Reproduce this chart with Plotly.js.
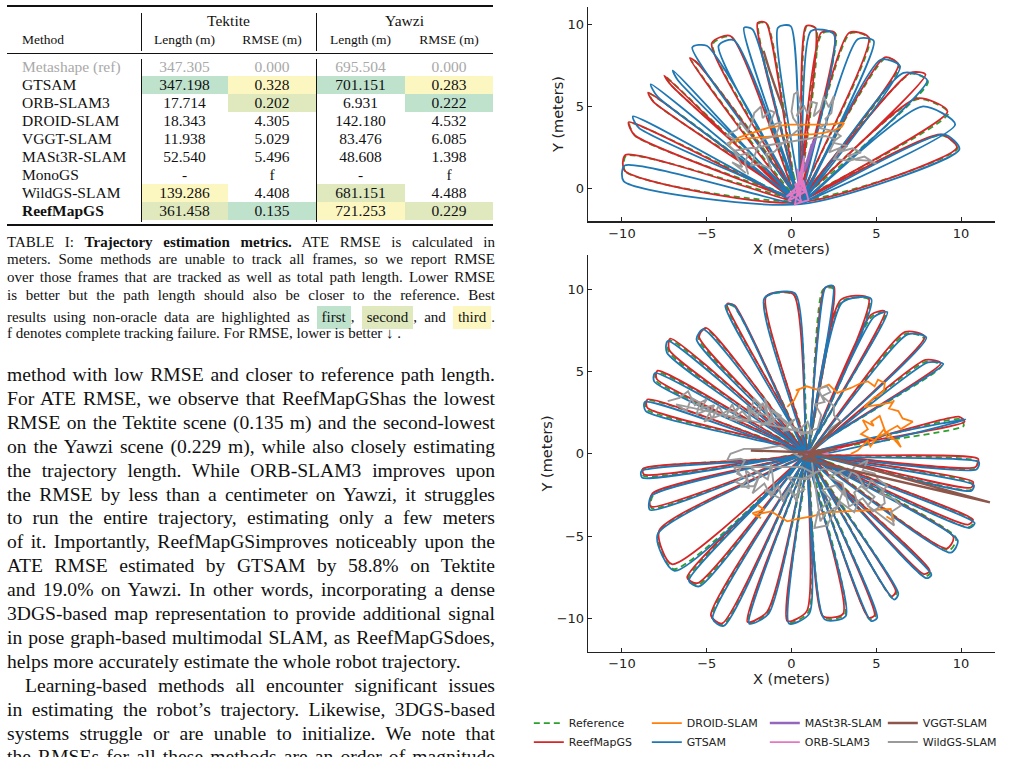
<!DOCTYPE html>
<html><head><meta charset="utf-8">
<script src="https://cdn.plot.ly/plotly-3.0.1.min.js"></script>
<style>
html,body{margin:0;padding:0;background:#fff;}
body{width:1010px;height:757px;overflow:hidden;position:relative;font-family:"Liberation Serif","DejaVu Serif",serif;color:#111;}
.rule{position:absolute;background:#111;}
.cell{position:absolute;height:18px;line-height:18px;font-size:15.5px;white-space:nowrap;}
.cap{position:absolute;left:7px;width:488px;height:18px;line-height:18px;font-size:15px;white-space:nowrap;text-align:justify;text-align-last:justify;}
.txt{position:absolute;left:7px;width:488px;height:24px;line-height:24px;font-size:19.6px;white-space:nowrap;text-align:justify;text-align-last:justify;}
.hl{display:inline-block;padding:0 5px;line-height:23px;}
#plot{position:absolute;left:520px;top:0;width:490px;height:757px;}
</style></head>
<body>
<div id="table"></div>
<div id="caption"></div>
<div id="text"></div>
<div id="plot"></div>
<script>
// ---------------- TABLE DATA ----------------
const methods = ["Metashape (ref)","GTSAM","ORB-SLAM3","DROID-SLAM","VGGT-SLAM","MASt3R-SLAM","MonoGS","WildGS-SLAM","ReefMapGS"];
const tekLength = ["347.305","347.198","17.714","18.343","11.938","52.540","-","139.286","361.458"];
const tekRmse = ["0.000","0.328","0.202","4.305","5.029","5.496","f","4.408","0.135"];
const yawLength = ["695.504","701.151","6.931","142.180","83.476","48.608","-","681.151","721.253"];
const yawRmse = ["0.000","0.283","0.222","4.532","6.085","1.398","f","4.488","0.229"];
const tekLengthRank = [0,1,0,0,0,0,0,3,2];
const tekRmseRank = [0,3,2,0,0,0,0,0,1];
const yawLengthRank = [0,1,0,0,0,0,0,2,3];
const yawRmseRank = [0,3,1,0,0,0,0,0,2];
const sceneNames = ["Tektite","Yawzi"];
const colHeaders = ["Method","Length (m)","RMSE (m)","Length (m)","RMSE (m)"];

const captionLines = [
 'TABLE I: <b>Trajectory estimation metrics.</b> ATE RMSE is calculated in',
 'meters. Some methods are unable to track all frames, so we report RMSE',
 'over those frames that are tracked as well as total path length. Lower RMSE',
 'is better but the path length should also be closer to the reference. Best',
 'results using non-oracle data are highlighted as <span class="hl" style="background:#bfe2cd">first</span>, <span class="hl" style="background:#dfe9bd">second</span>, and <span class="hl" style="background:#fcf7c1">third</span>.',
 'f denotes complete tracking failure. For RMSE, lower is better ↓ .'
];
const bodyLines = [
 'method with low RMSE and closer to reference path length.',
 'For ATE RMSE, we observe that ReefMapGShas the lowest',
 'RMSE on the Tektite scene (0.135 m) and the second-lowest',
 'on the Yawzi scene (0.229 m), while also closely estimating',
 'the trajectory length. While ORB-SLAM3 improves upon',
 'the RMSE by less than a centimeter on Yawzi, it struggles',
 'to run the entire trajectory, estimating only a few meters',
 'of it. Importantly, ReefMapGSimproves noticeably upon the',
 'ATE RMSE estimated by GTSAM by 58.8% on Tektite',
 'and 19.0% on Yawzi. In other words, incorporating a dense',
 '3DGS-based map representation to provide additional signal',
 'in pose graph-based multimodal SLAM, as ReefMapGSdoes,',
 'helps more accurately estimate the whole robot trajectory.',
 'Learning-based methods all encounter significant issues',
 'in estimating the robot’s trajectory. Likewise, 3DGS-based',
 'systems struggle or are unable to initialize. We note that',
 'the RMSEs for all these methods are an order of magnitude'
];

// ---------------- TRAJECTORY DATA ----------------
// petals: [tipA_x, tipA_y, tipB_x, tipB_y]; hubs: [x, y]
const tekRefHub = [0.45,-0.75];
const tekReefHub = [0.40,-0.85];
const tekGtsamHub = [0.55,-0.95];
const tekRefPetals = [
 [-9.80,1.05,-9.75,2.00],[-9.20,3.20,-9.55,4.00],[-8.10,5.25,-8.40,5.80],[-7.05,6.25,-7.45,6.85],
 [-5.55,7.65,-5.95,7.90],[-4.65,8.80,-3.55,9.25],[-1.95,10.05,-1.45,10.05],[0.90,9.90,1.45,9.75],
 [1.80,9.45,2.60,9.45],[3.45,9.45,4.60,9.15],[5.55,7.95,6.35,7.50],[7.05,7.00,8.05,6.50],
 [7.45,5.45,9.25,4.60],[8.85,3.25,9.80,2.45]
];
const tekReefPetals = [
 [-9.85,1.10,-9.80,2.05],[-9.25,3.25,-9.60,4.05],[-8.15,5.30,-8.45,5.85],[-7.10,6.30,-7.50,6.90],
 [-5.60,7.70,-6.00,7.95],[-4.70,8.85,-3.60,9.30],[-2.00,10.10,-1.50,10.10],[0.85,9.90,1.40,9.80],
 [1.75,9.50,2.55,9.50],[3.40,9.50,4.55,9.20],[5.50,8.00,6.30,7.55],[7.00,7.05,7.90,6.95],
 [7.40,5.50,9.20,4.70],[8.80,3.30,9.75,2.50]
];
const tekGtsamPetals = [
 [-9.90,0.45,-9.85,1.40],[-9.00,3.70,-9.35,4.40],[-7.90,5.60,-8.30,6.35],[-6.70,6.60,-7.00,7.20],
 [-5.85,8.60,-5.00,8.70],[-4.30,8.70,-3.40,9.05],[-2.80,9.80,-2.30,9.70],[-0.80,9.80,-0.05,9.90],
 [1.15,9.60,2.50,9.40],[3.90,9.10,4.85,9.00],[5.25,7.85,6.40,7.45],[6.60,7.05,8.00,6.60],
 [7.70,5.00,9.65,3.90],[9.00,3.30,9.90,2.40]
];
const tekDroid = [[-3.7,2.6],[-3.45,2.95],[-3.0,3.15],[-2.6,3.3],[-2.0,3.5],[-1.4,3.7],[-0.8,3.8],[-0.25,3.9],[0.4,3.9],[0.95,3.9],[1.6,3.9],[2.1,3.9],[2.6,3.95],[3.1,4.0],[2.95,3.75],[2.5,3.55],[1.9,3.4],[1.2,3.3],[0.55,3.3],[-0.2,3.25],[-1.0,3.2],[-1.6,3.15],[-2.2,3.1],[-2.8,3.05],[-3.3,2.85]];
const tekWildGS = [[-2.55,0.85],[-2.75,1.6],[-2.5,2.2],[-3.1,2.0],[-3.8,2.75],[-3.3,3.0],[-3.85,3.25],[-3.2,3.6],[-3.0,4.05],[-2.6,3.5],[-2.3,4.1],[-2.2,4.6],[-1.8,5.0],[-1.7,4.3],[-1.25,4.75],[-1.0,4.65],[-1.35,3.8],[-0.6,4.05],[-0.95,3.2],[-1.7,3.0],[-2.0,2.5],[-2.4,1.4],[-1.9,1.5],[-1.2,1.2],[-1.5,2.1],[-1.0,2.25],[-0.6,2.7],[-0.25,3.0],[0.3,3.5],[0.55,3.65],[0.1,4.3],[0.0,4.7],[0.15,5.75],[0.35,5.9],[0.55,5.1],[0.3,4.4],[0.75,5.0],[0.95,4.55],[1.15,5.3],[1.5,5.2],[1.3,4.4],[1.7,4.8],[1.9,5.6],[2.2,4.95],[2.5,5.65],[2.35,4.6],[2.0,4.25],[2.1,3.95],[1.6,3.7],[2.5,3.5],[2.9,3.2],[2.4,2.8],[3.3,2.6],[2.7,2.2],[3.6,2.45],[4.1,2.2],[3.3,2.0],[3.8,1.75],[4.5,1.7],[5.0,1.5],[4.3,1.95],[3.4,1.7],[2.5,1.8],[2.9,2.5],[2.2,2.2],[2.6,3.0],[2.0,3.2],[-3.4,2.3],[-2.9,1.3],[-3.5,1.6],[-2.7,0.95]];
const tekMast3r = [[0.7,1.0],[1.3,2.9],[0.85,1.25],[1.4,3.05],[0.8,1.15],[1.2,2.7],[0.75,1.05]];
const tekOrb = [[0.0,-0.4],[0.6,-0.85],[0.2,0.3],[0.9,-0.3],[0.35,1.2],[0.5,-0.6],[0.75,2.0],[0.3,-0.2],[-0.3,-0.5],[0.7,0.45],[1.0,-0.7],[0.2,-0.95],[0.6,0.95],[0.1,-0.3],[-0.2,-0.75],[0.8,-0.2],[0.45,0.6]];
const tekVggt = [[-1.65,8.4],[-1.3,7.2],[-0.9,6.0],[-0.55,5.0],[-0.35,4.4]];

const yawRefHub = [1.00,0.05];
const yawReefHub = [0.95,0.00];
const yawGtsamHub = [0.90,-0.05];
const yawRefPetals = [
 [-1.55,9.50,0.15,9.65],[1.85,9.95,2.45,10.05],[2.95,9.25,4.60,9.35],[4.75,8.35,5.55,8.55],
 [6.75,7.30,7.80,7.00],[7.95,5.60,8.85,5.35],[9.95,2.10,10.15,1.70],[10.95,-0.45,10.80,-0.90],
 [10.65,-1.80,10.55,-2.20],[10.75,-4.10,10.45,-4.45],[9.70,-5.10,9.30,-5.85],[8.20,-7.20,7.85,-7.45],
 [6.20,-8.40,5.95,-8.75],[4.95,-9.85,4.60,-10.05],[3.15,-9.75,1.90,-9.95],[1.00,-9.60,-0.20,-10.25],
 [-1.40,-9.65,-2.55,-10.25],[-4.05,-10.40,-4.70,-9.90],[-5.50,-7.95,-6.10,-7.60],[-6.95,-7.00,-7.85,-4.80],
 [-8.25,-3.30,-8.15,-2.50],[-8.70,-1.35,-8.80,-0.95],[-8.55,2.70,-8.55,3.25],[-8.00,4.45,-7.95,4.95],
 [-7.25,6.20,-7.20,6.90],[-5.50,7.00,-5.10,7.60],[-3.85,9.05,-3.40,8.95]
];
const yawReefPetals = [
 [-1.50,9.55,0.10,9.70],[1.95,10.05,2.50,10.15],[2.90,9.35,4.55,9.45],[4.70,8.45,5.50,8.65],
 [6.70,7.40,7.85,7.10],[7.90,5.70,8.80,5.50],[9.90,2.25,10.20,1.95],[11.00,-0.30,10.85,-0.80],
 [10.70,-1.70,10.60,-2.05],[10.70,-4.00,10.40,-4.30],[9.55,-5.05,9.15,-5.75],[8.15,-7.10,7.80,-7.30],
 [6.15,-8.35,5.90,-8.65],[4.90,-9.80,4.55,-9.95],[3.05,-9.70,1.85,-9.85],[0.90,-9.55,-0.25,-10.15],
 [-1.45,-9.60,-2.60,-10.20],[-4.10,-10.30,-4.75,-9.80],[-5.55,-7.85,-6.15,-7.50],[-7.05,-6.70,-7.80,-4.65],
 [-8.30,-3.20,-8.20,-2.40],[-8.70,-1.25,-8.75,-0.90],[-8.50,2.80,-8.50,3.30],[-7.95,4.55,-7.90,5.05],
 [-7.20,6.30,-7.15,7.00],[-5.45,7.10,-5.05,7.65],[-3.80,9.10,-3.35,9.00]
];
const yawGtsamPetals = [
 [-1.60,9.45,0.20,9.75],[2.00,10.10,2.45,10.20],[3.00,9.20,4.70,9.40],[4.85,8.30,5.65,8.60],
 [6.85,7.25,7.95,7.05],[8.05,5.55,8.95,5.45],[10.00,2.00,10.25,2.10],[11.05,-0.50,10.90,-0.95],
 [10.75,-1.90,10.60,-2.25],[10.80,-4.20,10.50,-4.50],[9.80,-5.25,9.40,-6.00],[8.25,-7.35,7.95,-7.55],
 [6.30,-8.50,6.05,-8.85],[5.05,-9.95,4.70,-10.15],[3.20,-9.85,1.95,-10.05],[1.05,-9.70,-0.15,-10.30],
 [-1.35,-9.70,-2.50,-10.30],[-4.00,-10.45,-4.65,-10.00],[-5.45,-8.05,-6.05,-7.70],[-6.90,-7.10,-7.90,-4.90],
 [-8.35,-3.40,-8.25,-2.55],[-8.80,-1.45,-8.85,-1.05],[-8.60,2.60,-8.65,3.15],[-8.10,4.40,-8.05,4.90],
 [-7.35,6.15,-7.30,6.85],[-5.60,6.95,-5.20,7.55],[-3.90,9.00,-3.45,9.05]
];
const yawDroid = [[-0.25,2.85],[0.15,3.25],[0.45,3.9],[0.25,3.85],[0.9,4.1],[1.5,3.9],[2.2,4.2],[2.7,3.7],[3.5,4.0],[4.1,4.3],[4.5,4.4],[4.9,4.1],[5.1,4.5],[5.5,4.3],[5.45,3.85],[5.1,3.5],[4.9,3.45],[4.3,2.85],[5.3,3.0],[6.0,3.15],[6.05,3.25],[5.75,2.75],[6.3,2.6],[6.55,2.15],[7.15,1.95],[6.45,1.5],[6.25,1.7],[5.55,1.3],[5.2,2.3],[4.7,1.95],[4.85,1.7],[4.2,2.05],[4.5,1.5],[4.1,1.2],[4.9,0.8],[5.45,1.5],[5.65,1.0],[6.25,0.8],[6.45,0.4],[6.25,0.65],[5.65,1.3],[5.05,1.0],[4.65,0.45],[4.5,0.8],[3.9,0.2],[3.5,0.0],
 null,
 [-2.0,-3.1],[-1.6,-3.4],[-2.3,-3.6],[-1.8,-3.9],[-2.2,-3.7],[-1.2,-3.5],[-0.25,-4.1],[0.35,-3.95],[1.2,-3.8],[2.1,-3.55],[3.0,-3.5],[3.9,-3.45],[4.8,-3.4],[5.85,-3.35],[6.05,-4.1],[5.6,-3.8]];
const yawWildGS = [[-7.3,3.2],[-6.6,3.4],[-6.1,3.8],[-5.7,2.95],[-5.0,3.3],[-5.35,2.75],[-4.55,2.95],[-5.15,1.95],[-4.2,2.35],[-3.8,2.6],[-3.4,2.55],[-3.0,2.95],[-3.6,2.1],[-2.6,1.95],[-2.2,3.35],[-1.8,2.95],[-2.4,2.5],[-1.4,2.35],[-1.6,3.4],[-1.0,1.95],[-1.9,1.7],[-0.6,2.3],[-1.2,2.7],[-0.3,1.8],[0.2,2.1],[-0.5,1.4],[0.55,1.55],[0.95,1.95],[1.2,1.2],
 [-6.8,3.0],[-6.2,2.6],[-5.9,3.4],[-5.4,3.1],[-5.6,2.4],[-4.9,2.7],[-4.7,2.1],[-4.3,2.9],[-3.9,2.2],[-3.5,3.0],[-3.2,2.3],[-2.9,2.6],[-2.4,2.0],[-2.6,2.9],[-2.0,2.2],[-1.7,3.1],[-1.3,2.0],[-1.1,2.6],[-0.4,2.0],[0.6,1.2],
 [1.55,1.55],[1.75,2.35],[1.4,3.0],[1.95,3.15],[1.55,3.95],[2.1,4.1],[2.3,3.75],[1.8,3.5],[2.5,2.9],[2.5,2.35],[2.9,1.95],[2.3,1.55],[2.0,0.9],[1.5,0.5],
 [0.5,-0.2],[-0.6,0.5],[-1.8,0.3],[-2.8,0.3],[-3.6,0.0],[-3.8,-0.4],[-3.0,-0.3],[-2.75,-0.4],[-3.2,-1.2],[-2.6,-1.55],[-3.0,-2.0],[-2.2,-1.95],[-1.8,-1.2],[-2.4,-0.9],[-1.4,-1.55],[-1.2,-0.6],[-1.0,-2.35],[-1.6,-2.2],[-0.6,-2.75],[-0.2,-2.2],[0.15,-2.55],[0.75,-2.15],[0.15,-1.8],[-0.25,-1.4],[0.95,-1.55],[1.35,-1.2],[0.6,-0.8],
 [-3.4,-0.8],[-2.9,-1.4],[-3.3,-1.7],[-2.5,-2.1],[-2.7,-1.0],[-2.0,-1.6],[-2.3,-2.4],[-1.6,-1.8],[-1.2,-2.6],[-0.8,-1.9],[-0.5,-2.9],[-0.1,-2.0],[0.3,-2.9],[0.5,-1.6],
 [1.9,-0.9],[2.9,-1.2],[3.3,-1.55],[3.7,-0.8],[4.5,-0.4],[4.2,-1.0],[4.9,-1.2],[5.1,-1.55],[5.65,-1.95],[5.2,-2.4],[6.05,-2.75],[6.45,-3.15],[5.85,-3.55],[6.05,-4.35],[5.25,-3.75],[4.5,-3.15],[4.9,-2.6],[4.1,-1.95],[3.7,-2.35],[3.9,-3.0],[3.7,-3.55],[2.9,-2.95],[2.5,-3.55],[2.1,-4.35],[1.35,-4.5],[1.55,-3.55],[2.3,-2.75],[1.8,-2.2],[2.6,-1.9],[3.2,-2.6],[3.0,-1.8],[2.2,-1.4],
 [3.3,-0.9],[3.9,-1.3],[4.4,-2.2],[4.7,-1.6],[5.4,-2.2],[5.5,-3.0],[4.8,-3.5],[4.2,-2.7],[3.4,-3.2],[3.1,-2.1],[2.7,-3.2],[2.0,-3.6],[1.7,-4.1],[1.2,-0.5]];
const yawMast3r = [[0.6,0.05],[1.6,0.15],[0.8,-0.05],[1.4,0.25],[0.7,0.1]];
const yawOrb = [[1.2,0.0],[2.9,0.3],[1.7,0.1],[2.5,0.25],[1.0,0.05],[2.2,0.0]];
const yawVggt = [[-2.4,0.2],[0.9,0.1],[2.7,0.3],[1.0,-0.1],[2.9,1.95],[1.1,0.1],[11.7,-2.95],[0.6,-0.3],[2.0,0.15],[0.4,0.05],[1.5,-0.35],[0.8,0.2]];

// ---------------- LEFT COLUMN (HTML) ----------------
const hlColor = {1:'#bfe2cd',2:'#dfe9bd',3:'#fcf7c1'};
const cols = [[7,141],[141,228],[228,316],[316,405],[405,493]];
const tbl = document.getElementById('table');
function add(parent, cls, style, html){ const d=document.createElement('div'); d.className=cls; Object.assign(d.style, style); if(html!==undefined) d.innerHTML=html; parent.appendChild(d); return d; }
function px(v){return v+'px';}
const rowTop0 = 58, rowH = 18;
const valueCols = [tekLength, tekRmse, yawLength, yawRmse];
const rankCols = [tekLengthRank, tekRmseRank, yawLengthRank, yawRmseRank];
rankCols.forEach((rk,c)=>{ rk.forEach((r,i)=>{ if(r){ add(tbl,'rule',{left:px(cols[c+1][0]),width:px(cols[c+1][1]-cols[c+1][0]),top:px(rowTop0+i*rowH),height:px(rowH),background:hlColor[r]}); } }); });
add(tbl,'rule',{left:'7px',width:'486px',top:'5px',height:'2px'});
add(tbl,'rule',{left:'7px',width:'486px',top:'53px',height:'1px'});
add(tbl,'rule',{left:'7px',width:'486px',top:'224px',height:'2px'});
[141,316].forEach(x=>{ add(tbl,'rule',{left:px(x),width:'1px',top:'13px',height:'38px'}); add(tbl,'rule',{left:px(x),width:'1px',top:'59px',height:'163px'}); });
add(tbl,'cell',{left:'141px',width:'175px',top:'12px',textAlign:'center'},sceneNames[0]);
add(tbl,'cell',{left:'316px',width:'177px',top:'12px',textAlign:'center'},sceneNames[1]);
add(tbl,'cell',{left:'22px',top:'31px',fontSize:'13.5px'},colHeaders[0]);
for(let c=1;c<5;c++) add(tbl,'cell',{left:px(cols[c][0]),width:px(cols[c][1]-cols[c][0]),top:'31px',textAlign:'center',fontSize:'13.5px'},colHeaders[c]);
methods.forEach((m,i)=>{
  const top = rowTop0 + i*rowH;
  const st = {};
  if(i===0) st.color='#a9a9a9';
  if(m==='ReefMapGS') st.fontWeight='bold';
  add(tbl,'cell',Object.assign({left:'22px',top:px(top)},st),m);
  valueCols.forEach((vals,c)=>{ add(tbl,'cell',Object.assign({left:px(cols[c+1][0]),width:px(cols[c+1][1]-cols[c+1][0]),top:px(top),textAlign:'center'}, i===0?{color:'#a9a9a9'}:{}), vals[i]); });
});
const capTops = [233,250,268,286,306,324];
const cap = document.getElementById('caption');
captionLines.forEach((l,i)=>{ const d=add(cap,'cap',{top:px(capTops[i])},l); if(i===captionLines.length-1) d.style.textAlignLast='left'; });
const txt = document.getElementById('text');
bodyLines.forEach((l,i)=>{ const d=add(txt,'txt',{top:px(363+i*23.9)},l); if(i===12) d.style.textAlignLast='left'; if(i===13){ d.style.left='25px'; d.style.width='470px'; } });

// ---------------- PLOT ----------------
function loopPath(petals, hub){ const x=[],y=[]; petals.forEach(p=>{ x.push(hub[0],p[0],p[2]); y.push(hub[1],p[1],p[3]); }); x.push(hub[0]); y.push(hub[1]); return {x,y}; }
function pairs(arr){ return {x:arr.map(p=>p?p[0]:null), y:arr.map(p=>p?p[1]:null)}; }

const series = [
 {name:'Reference', color:'#2ca02c', dash:'6px,4px', width:1.8, rank:1, shape:'spline', tek:loopPath(tekRefPetals,tekRefHub), yaw:loopPath(yawRefPetals,yawRefHub)},
 {name:'ReefMapGS', color:'#d62728', dash:'solid', width:1.8, rank:5, shape:'spline', tek:loopPath(tekReefPetals,tekReefHub), yaw:loopPath(yawReefPetals,yawReefHub)},
 {name:'GTSAM', color:'#1f77b4', dash:'solid', width:1.8, rank:6, shape:'spline', tek:loopPath(tekGtsamPetals,tekGtsamHub), yaw:loopPath(yawGtsamPetals,yawGtsamHub)},
 {name:'DROID-SLAM', color:'#ff7f0e', dash:'solid', width:1.8, rank:2, shape:'linear', tek:pairs(tekDroid), yaw:pairs(yawDroid)},
 {name:'WildGS-SLAM', color:'#9a9a9a', dash:'solid', width:1.9, rank:8, shape:'linear', tek:pairs(tekWildGS), yaw:pairs(yawWildGS)},
 {name:'MASt3R-SLAM', color:'#9467bd', dash:'solid', width:2.4, rank:3, shape:'linear', tek:pairs(tekMast3r), yaw:pairs(yawMast3r)},
 {name:'ORB-SLAM3', color:'#e377c2', dash:'solid', width:1.8, rank:7, shape:'linear', tek:pairs(tekOrb), yaw:pairs(yawOrb)},
 {name:'VGGT-SLAM', color:'#8c564b', dash:'solid', width:2.4, rank:4, shape:'linear', tek:pairs(tekVggt), yaw:pairs(yawVggt)}
];
const traces = [];
series.forEach(s=>{
  const ln = {color:s.color, width:s.width, dash:s.dash, shape:s.shape};
  if(s.shape==='spline') ln.smoothing = 0.7;
  traces.push({type:'scatter', mode:'lines', x:s.tek.x, y:s.tek.y, xaxis:'x', yaxis:'y', name:s.name, legendrank:s.rank, showlegend:true, line:ln, hoverinfo:'skip'});
  traces.push({type:'scatter', mode:'lines', x:s.yaw.x, y:s.yaw.y, xaxis:'x2', yaxis:'y2', name:s.name, legendrank:s.rank, showlegend:false, line:ln, hoverinfo:'skip'});
});
const tickFont = {family:'DejaVu Sans', size:13, color:'#222'};
const titleFont = {family:'DejaVu Sans', size:14.5, color:'#222'};
const ax = {showline:true, linecolor:'#222', linewidth:1.3, ticks:'inside', ticklen:4, tickwidth:1.1, tickcolor:'#222', showgrid:false, zeroline:false, tickfont:tickFont, fixedrange:true, automargin:false};
const layout = {
  width:490, height:757, margin:{l:0,r:0,t:0,b:0}, paper_bgcolor:'#fff', plot_bgcolor:'#fff',
  font:{family:'DejaVu Sans', color:'#222'},
  xaxis:Object.assign({}, ax, {domain:[0.1388,0.9694], range:[-12,12], tickvals:[-10,-5,0,5,10], anchor:'y', title:{text:'X (meters)', font:titleFont, standoff:2}}),
  yaxis:Object.assign({}, ax, {domain:[0.6988,0.9908], range:[-2,11.08], tickvals:[0,5,10], anchor:'x', title:{text:'Y (meters)', font:titleFont, standoff:0}}),
  xaxis2:Object.assign({}, ax, {domain:[0.1388,0.9694], range:[-12,12], tickvals:[-10,-5,0,5,10], anchor:'y2', title:{text:'X (meters)', font:titleFont, standoff:2}}),
  yaxis2:Object.assign({}, ax, {domain:[0.1136,0.6526], range:[-12,12.05], tickvals:[-10,-5,0,5,10], anchor:'x2', title:{text:'Y (meters)', font:titleFont, standoff:0}}),
  showlegend:true,
  legend:{orientation:'h', x:0.018, xanchor:'left', y:0.036, yanchor:'top', font:{family:'DejaVu Sans', size:11, color:'#222'}, itemwidth:30, entrywidth:73, entrywidthmode:'pixels', traceorder:'normal', bgcolor:'rgba(0,0,0,0)', tracegroupgap:0}
};
Plotly.newPlot('plot', traces, layout, {staticPlot:true, displayModeBar:false});
</script>
</body></html>
